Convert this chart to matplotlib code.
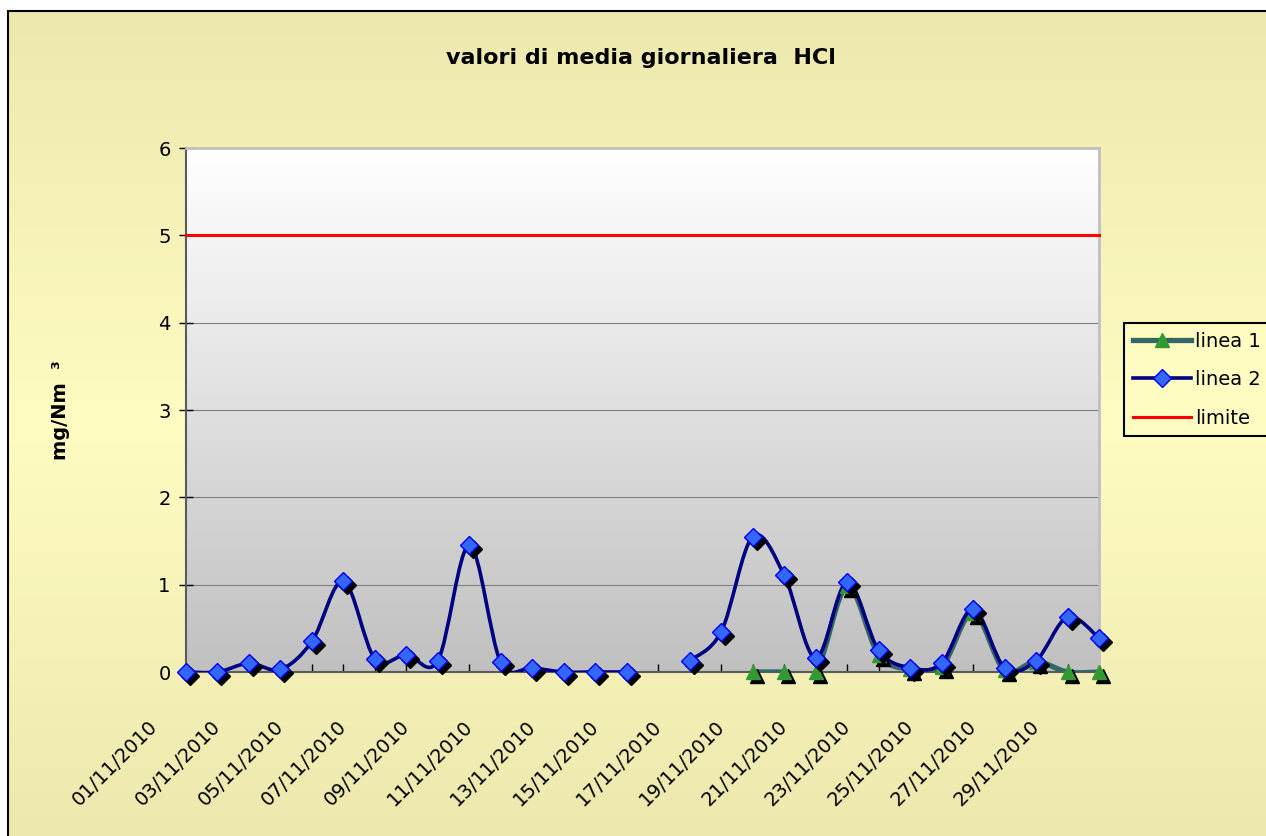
import numpy as np
import matplotlib
matplotlib.use('Agg')
import matplotlib.pyplot as plt
from matplotlib.path import Path
from matplotlib.patches import PathPatch, Rectangle
from matplotlib.lines import Line2D
from matplotlib.colors import LinearSegmentedColormap
from matplotlib.transforms import offset_copy, ScaledTranslation

nan = np.nan

# dati: giorni di novembre 2010
giorni = list(range(1, 31))
linea_1 = [nan] * 18 + [0, 0, 0, 0.98, 0.2, 0.03, 0.06, 0.68, 0.02, 0.12, 0, 0]
linea_2 = [0, 0, 0.1, 0.03, 0.35, 1.04, 0.15, 0.2, 0.13, 1.45,
           0.11, 0.05, 0, 0, 0, nan, 0.13, 0.46, 1.55, 1.11,
           0.16, 1.03, 0.25, 0.05, 0.1, 0.72, 0.05, 0.13, 0.63, 0.39]
limite = [5] * 30
etichette = ['01/11/2010', '03/11/2010', '05/11/2010', '07/11/2010', '09/11/2010',
             '11/11/2010', '13/11/2010', '15/11/2010', '17/11/2010', '19/11/2010',
             '21/11/2010', '23/11/2010', '25/11/2010', '27/11/2010', '29/11/2010']
y_ticks = [0, 1, 2, 3, 4, 5, 6]

W, H = 1266, 836


def curva(x, y):
    # linea smussata tipo Excel (Bezier Catmull-Rom)
    x = np.asarray(x, float)
    y = np.asarray(y, float)
    ok = ~np.isnan(y)
    verts, codes = [], []
    i, n = 0, len(x)
    while i < n:
        if not ok[i]:
            i += 1
            continue
        j = i
        while j + 1 < n and ok[j + 1]:
            j += 1
        P = np.column_stack([x[i:j + 1], y[i:j + 1]])
        m = len(P)
        verts.append(P[0])
        codes.append(Path.MOVETO)
        for k in range(m - 1):
            p0 = P[k - 1] if k > 0 else P[k]
            p3 = P[k + 2] if k + 2 < m else P[k + 1]
            c1 = P[k] + (P[k + 1] - p0) / 6
            c2 = P[k + 1] - (p3 - P[k]) / 6
            verts += [c1, c2, P[k + 1]]
            codes += [Path.CURVE4] * 3
        i = j + 1
    return Path(verts, codes)


fig = plt.figure(figsize=(W / 100, H / 100), dpi=100)

# sfondo giallo
bg = fig.add_axes([8 / W, 0, 1, 1 - 11 / H])
bg.axis('off')
cmap_bg = LinearSegmentedColormap.from_list('bg', ['#ECE8AE', '#FFFCC2', '#ECE8AE'])
bg.imshow(np.linspace(0, 1, 256).reshape(-1, 1), aspect='auto', cmap=cmap_bg,
          extent=(0, 1, 0, 1))
fig.add_artist(Rectangle((8 / W, -0.05), 1.2, 1 - 11 / H + 0.05, transform=fig.transFigure,
                         fill=False, ec='black', lw=1.5))

ax = fig.add_axes([186 / W, 1 - 672 / H, 913 / W, 524 / H])
cmap_pa = LinearSegmentedColormap.from_list('pa', ['#FFFFFF', '#C0C0C0'])
ax.imshow(np.linspace(0, 1, 256).reshape(-1, 1), aspect='auto', cmap=cmap_pa,
          extent=(1, 30, 0, 6), zorder=0)
ax.set_xlim(1, 30)
ax.set_ylim(0, 6)
ax.grid(axis='y', color='#808080', lw=0.8)

for s in ['left', 'bottom']:
    ax.spines[s].set_color('#5A5A5A')
    ax.spines[s].set_linewidth(1.5)
for s in ['top', 'right']:
    ax.spines[s].set_color('#C0C0C0')
    ax.spines[s].set_linewidth(2)

ax.add_patch(PathPatch(curva(giorni, linea_1), fill=False, ec='#336666', lw=3.8,
                       capstyle='round', joinstyle='round', zorder=3))
ax.add_patch(PathPatch(curva(giorni, linea_2), fill=False, ec='#000080', lw=2.6,
                       capstyle='round', joinstyle='round', zorder=3.1))
ax.plot(giorni, limite, color='#FF0000', lw=2.2, zorder=3.2, clip_on=False)

ombra = offset_copy(ax.transData, fig=fig, x=4, y=-4, units='dots')
ax.plot(giorni, linea_1, ls='none', marker='^', ms=10, mfc='black', mec='black',
        transform=ombra, clip_on=False, zorder=4)
ax.plot(giorni, linea_1, ls='none', marker='^', ms=10, mfc='#339933', mec='#339933',
        clip_on=False, zorder=4.1)
ax.plot(giorni, linea_2, ls='none', marker='D', ms=9, mfc='black', mec='black',
        transform=ombra, clip_on=False, zorder=4.2)
ax.plot(giorni, linea_2, ls='none', marker='D', ms=9, mfc='#3366FF', mec='#0000EE',
        mew=1, clip_on=False, zorder=4.3)

ax.set_yticks(y_ticks)
ax.tick_params(axis='y', direction='inout', length=10, width=1, color='black',
               labelsize=14, pad=6)
ax.set_xticks(giorni)
labels_x = []
for g in giorni:
    labels_x.append(etichette[(g - 1) // 2] if g % 2 == 1 else '')
ax.set_xticklabels(labels_x)
ax.tick_params(axis='x', direction='in', length=6, width=1, color='black',
               labelsize=14, pad=37)
sposta = ScaledTranslation(-0.31, 0, fig.dpi_scale_trans)
for lab in ax.get_xticklabels():
    lab.set_rotation(45)
    lab.set_ha('right')
    lab.set_va('center')
    lab.set_rotation_mode('anchor')
    lab.set_transform(lab.get_transform() + sposta)

fig.text(641 / W, 1 - 58 / H, 'valori di media giornaliera  HCl', ha='center', va='center',
         fontsize=16, fontweight='bold')
fig.text(61 / W, 1 - 410 / H, 'mg/Nm  ³', ha='center', va='center', rotation=90,
         fontsize=14, fontweight='bold')

h1 = Line2D([], [], color='#336666', lw=3.8, marker='^', ms=10, mfc='#339933', mec='#339933')
h2 = Line2D([], [], color='#000080', lw=2.6, marker='D', ms=9, mfc='#3366FF', mec='#0000EE')
h3 = Line2D([], [], color='#FF0000', lw=2.2)
leg = fig.legend([h1, h2, h3], ['linea 1', 'linea 2', 'limite'], loc='upper left',
                 bbox_to_anchor=(1124 / W, 1 - 323 / H), bbox_transform=fig.transFigure,
                 fancybox=False, edgecolor='black', facecolor='#FFFCC2', framealpha=1,
                 fontsize=14, handlelength=3.0, handletextpad=0.2, labelspacing=1.0,
                 borderpad=0.45, borderaxespad=0, numpoints=1)
leg.get_frame().set_linewidth(1.5)

fig.savefig('out.png', dpi=100)
